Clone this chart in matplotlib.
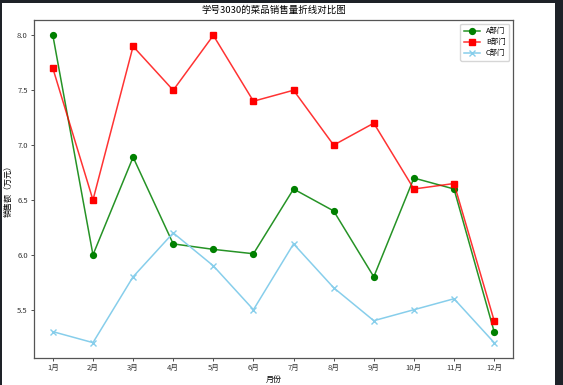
import matplotlib
matplotlib.use("Agg")
import matplotlib.pyplot as plt
from matplotlib.patches import Rectangle

plt.rcParams['font.family'] = ['Noto Sans CJK SC', 'DejaVu Sans']
plt.rcParams['axes.unicode_minus'] = False

# data (sales, 10k yuan)
months = ['1月', '2月', '3月', '4月', '5月', '6月', '7月', '8月', '9月', '10月', '11月', '12月']
dept_a = [8.0, 6.0, 6.89, 6.1, 6.05, 6.01, 6.6, 6.4, 5.8, 6.7, 6.6, 5.3]
dept_b = [7.7, 6.5, 7.9, 7.5, 8.0, 7.4, 7.5, 7.0, 7.2, 6.6, 6.65, 5.4]
dept_c = [5.3, 5.2, 5.8, 6.2, 5.9, 5.5, 6.1, 5.7, 5.4, 5.5, 5.6, 5.2]

fig = plt.figure(figsize=(5.63, 3.85), dpi=100, facecolor='#1e2228')
# white canvas inside the dark screenshot frame
fig.patches.append(Rectangle((2 / 563, 0), 553 / 563, 382 / 385,
                             transform=fig.transFigure, facecolor='white',
                             edgecolor='none', zorder=-5))
ax = fig.add_axes([34 / 563, 27 / 385, 479 / 563, 338 / 385])

ax.plot(months, dept_a, color=(0, 0.5, 0, 0.85), marker='o', markersize=4.2,
        mfc='green', mec='green', linewidth=1.1, label='A部门')
ax.plot(months, dept_b, color=(1, 0, 0, 0.8), marker='s', markersize=4.2,
        mfc='red', mec='red', linewidth=1.1, label='B部门')
ax.plot(months, dept_c, color='skyblue', marker='x', markersize=4.2,
        linewidth=1.1, label='C部门')
ax.set_xlim(-0.47, 11.47)

ax.set_title('学号3030的菜品销售量折线对比图', fontsize=6.8, pad=5)
ax.set_xlabel('月份', fontsize=5.8, labelpad=2)
ax.set_ylabel('销售额（万元）', fontsize=5.8, labelpad=3)
ax.tick_params(labelsize=5.5, length=2.5, width=0.6, pad=2, colors='#333333')
for s in ax.spines.values():
    s.set_linewidth(0.9)
    s.set_color('#555555')
ax.legend(loc='upper right', fontsize=5.3, handlelength=2.2, borderpad=0.5,
          labelspacing=0.4, framealpha=0.8)

fig.savefig('out.png', dpi=100, facecolor=fig.get_facecolor())
